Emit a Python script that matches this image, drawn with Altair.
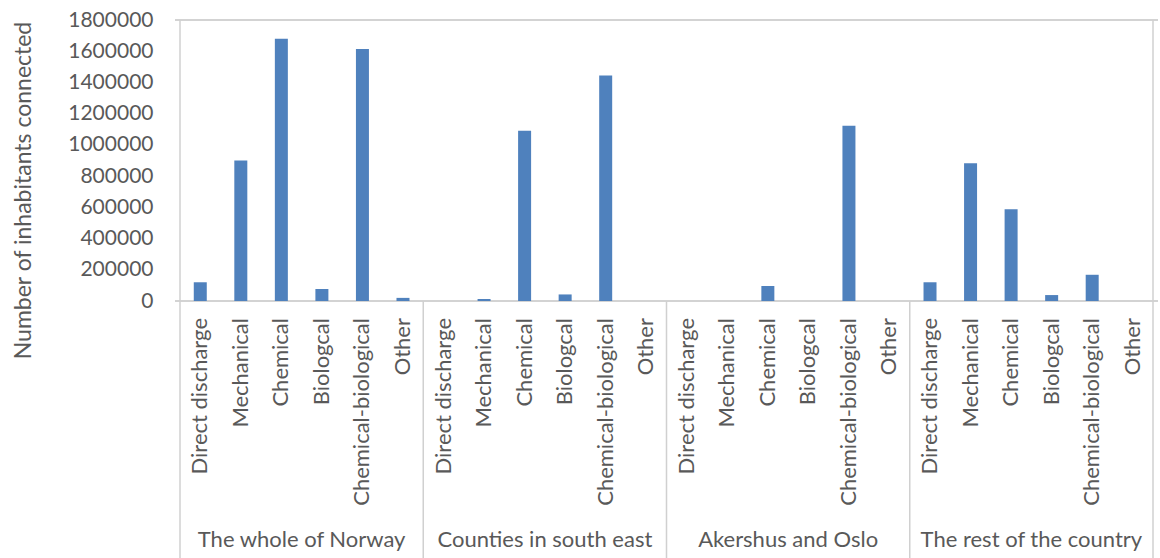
import altair as alt
import pandas as pd

# Treatment categories within each region
categories = ["Direct discharge", "Mechanical", "Chemical", "Biologcal",
              "Chemical-biological", "Other"]
regions = ["The whole of Norway", "Counties in south east",
           "Akershus and Oslo", "The rest of the country"]

# Number of inhabitants connected, per region and treatment category
whole_of_norway = [120000, 900000, 1680000, 77000, 1615000, 20000]
south_east = [0, 13000, 1090000, 42000, 1445000, 0]
akershus_oslo = [0, 0, 96000, 0, 1123000, 0]
rest_of_country = [120000, 882000, 587000, 38000, 168000, 0]

y_ticks = list(range(0, 1800001, 200000))

series = [whole_of_norway, south_east, akershus_oslo, rest_of_country]
n_cat = len(categories)
n_all = n_cat * len(regions)

rows = []
for gi, (region, vals) in enumerate(zip(regions, series)):
    for ci, (cat, v) in enumerate(zip(categories, vals)):
        rows.append({"region": region, "category": cat,
                     "pos": gi * n_cat + ci + 0.5, "value": v})
df = pd.DataFrame(rows)

group_df = pd.DataFrame({"region": regions,
                         "pos": [gi * n_cat + n_cat / 2 for gi in range(len(regions))]})
edge_df = pd.DataFrame({"pos": [0, n_all]})
sep_df = pd.DataFrame({"pos": [gi * n_cat for gi in range(1, len(regions))]})

W, H = 983, 281
FONT = "Lato"
TXT = "#595959"
LINE = "#D0D0D0"

x_scale = alt.Scale(domain=[0, n_all], nice=False, zero=False)
x_enc = alt.X("pos:Q", scale=x_scale, axis=None)

bars = alt.Chart(df).mark_bar(width=13, color="#4F81BD").encode(
    x=x_enc,
    y=alt.Y("value:Q",
            scale=alt.Scale(domain=[0, 1800000], nice=False),
            axis=alt.Axis(values=y_ticks, format="d", ticks=False, domain=False,
                          grid=False, labelFontSize=21, labelFont=FONT,
                          labelColor=TXT, labelPadding=22,
                          title="Number of inhabitants connected",
                          titleFont=FONT, titleFontSize=23,
                          titleFontWeight="normal", titleColor=TXT,
                          titleX=-152, titleY=170, titleAlign="center",
                          titleBaseline="middle")),
)

cat_labels = alt.Chart(df).mark_text(
    angle=270, align="right", baseline="middle", font=FONT, fontSize=22,
    color=TXT,
).encode(x=x_enc, y=alt.value(298), text="category:N")

group_labels = alt.Chart(group_df).mark_text(
    align="center", baseline="middle", font=FONT, fontSize=22, color=TXT,
).encode(x=x_enc, y=alt.value(520), text="region:N")

top_line = alt.Chart(edge_df).mark_rule(color=LINE, strokeWidth=1.5).encode(
    x=alt.value(0), x2=alt.value(W), y=alt.value(0))
axis_line = alt.Chart(edge_df).mark_rule(color=LINE, strokeWidth=1.5).encode(
    x=alt.value(0), x2=alt.value(W), y=alt.value(H))
edges = alt.Chart(edge_df).mark_rule(color=LINE, strokeWidth=1.5).encode(
    x=x_enc, y=alt.value(0), y2=alt.value(540))
seps = alt.Chart(sep_df).mark_rule(color=LINE, strokeWidth=1.5).encode(
    x=x_enc, y=alt.value(H), y2=alt.value(540))

chart = alt.layer(top_line, axis_line, edges, seps, bars, cat_labels,
                  group_labels).properties(
    width=W, height=H,
    autosize=alt.AutoSizeParams(type="none"),
    padding={"left": 175, "top": 20, "right": 2, "bottom": 257},
    background="white",
).configure_view(stroke=None)

chart.save("out.html", embed_options={"renderer": "svg", "actions": False})
